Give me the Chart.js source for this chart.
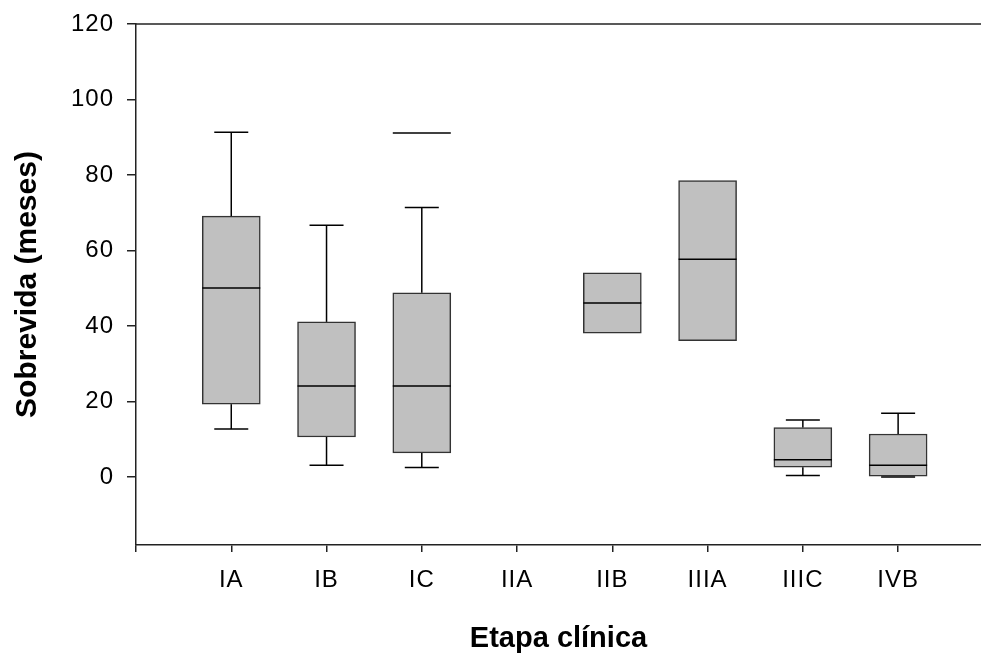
<!DOCTYPE html>
<html lang="pt">
<head>
  <meta charset="UTF-8" />
  <title>Sobrevida por etapa clínica</title>
  <script src="https://cdn.jsdelivr.net/npm/chart.js"></script>
  <style>
    body {
      margin: 0;
      background: #ffffff;
    }
    #wrap {
      width: 981px;
      height: 657px;
    }
  </style>
</head>
<body>
  <div id="wrap"><canvas id="boxChart"></canvas></div>

  <script>
    // stages on the x axis
    const stages = ['IA', 'IB', 'IC', 'IIA', 'IIB', 'IIIA', 'IIIC', 'IVB'];
    // box plot values (months), null = no data
    const whiskerLow = [12.7, 3.1, 2.5, null, null, null, 0.4, 0.0];
    const q1 = [19.3, 10.6, 6.4, null, 38.1, 36.1, 2.6, 0.0];
    const median = [50.1, 24.1, 24.1, null, 46.1, 57.7, 4.6, 3.1];
    const q3 = [69.1, 41.1, 48.8, null, 54.1, 78.5, 13.1, 11.4];
    const whiskerHigh = [91.3, 66.7, 71.4, null, null, null, 15.1, 16.9];
    // single extreme value drawn as a line above IC
    const extremes = [[], [], [91.1], [], [], [], [], []];
    const yTicks = [0, 20, 40, 60, 80, 100, 120];

    const FONT = "'Liberation Sans', Arial, sans-serif";
    const LINE = '#222';

    // boxes (q1..q3) as floating bars; stages without data are left out
    const boxData = stages
      .map((s, i) => q1[i] == null ? null : { x: i + 1, y: [q1[i], q3[i]] })
      .filter(d => d !== null);

    const boxPlugin = {
      id: 'boxExtras',
      afterDatasetsDraw(chart) {
        const { ctx, chartArea, scales: { x, y } } = chart;
        const boxHalf = 29, capHalf = 17;
        ctx.save();
        ctx.lineWidth = 1.5;

        // top frame line
        ctx.strokeStyle = LINE;
        ctx.beginPath();
        ctx.moveTo(chartArea.left, chartArea.top);
        ctx.lineTo(chartArea.right, chartArea.top);
        ctx.stroke();
        ctx.strokeStyle = '#000';

        const hline = (px, val, half) => {
          const py = y.getPixelForValue(val);
          ctx.beginPath();
          ctx.moveTo(px - half, py);
          ctx.lineTo(px + half, py);
          ctx.stroke();
        };
        const vline = (px, a, b) => {
          ctx.beginPath();
          ctx.moveTo(px, y.getPixelForValue(a));
          ctx.lineTo(px, y.getPixelForValue(b));
          ctx.stroke();
        };

        stages.forEach((s, i) => {
          if (q1[i] == null) return;
          const px = x.getPixelForValue(i + 1);
          hline(px, median[i], boxHalf);
          if (whiskerHigh[i] != null) {
            vline(px, q3[i], whiskerHigh[i]);
            hline(px, whiskerHigh[i], capHalf);
          }
          if (whiskerLow[i] != null) {
            vline(px, q1[i], whiskerLow[i]);
            hline(px, whiskerLow[i], capHalf);
          }
          extremes[i].forEach(v => hline(px, v, boxHalf));
        });
        ctx.restore();

        // slightly wider spacing for the tick labels drawn after this hook
        ctx.letterSpacing = '1px';
      },
      afterDraw(chart) {
        chart.ctx.letterSpacing = '0px';
      }
    };

    new Chart(document.getElementById('boxChart'), {
      type: 'bar',
      data: {
        datasets: [{
          data: boxData,
          backgroundColor: '#c0c0c0',
          borderColor: '#333',
          borderWidth: 1.5,
          borderSkipped: false,
          barThickness: 58,
          grouped: false
        }]
      },
      options: {
        responsive: true,
        maintainAspectRatio: false,
        animation: false,
        layout: { padding: { top: 24, right: 0, left: 0, bottom: 0 } },
        plugins: {
          legend: { display: false },
          tooltip: { enabled: false }
        },
        scales: {
          x: {
            type: 'linear',
            offset: false,
            min: 0,
            max: 8.87,
            afterBuildTicks: (axis) => {
              axis.ticks = [0, 1, 2, 3, 4, 5, 6, 7, 8].map(v => ({ value: v }));
            },
            afterFit: (axis) => { axis.height = 112; },
            ticks: {
              z: 1,
              autoSkip: false,
              maxRotation: 0,
              padding: 14,
              color: '#000',
              font: { family: FONT, size: 24 },
              callback: (v) => v === 0 ? '' : stages[v - 1]
            },
            grid: {
              display: true,
              offset: false,
              drawOnChartArea: false,
              drawTicks: true,
              tickLength: 7,
              color: LINE,
              lineWidth: 1.5
            },
            border: { display: true, color: LINE, width: 1.5 },
            title: {
              display: true,
              text: 'Etapa clínica',
              color: '#000',
              font: { family: FONT, size: 29, weight: 'bold' },
              padding: { top: 0, bottom: 1 }
            }
          },
          y: {
            min: -18,
            max: 120,
            afterBuildTicks: (axis) => {
              axis.ticks = yTicks.map(v => ({ value: v }));
            },
            afterFit: (axis) => {
              axis.width = 136;
              axis.paddingTop = 0;
              axis.paddingBottom = 0;
            },
            ticks: {
              z: 1,
              padding: 13,
              color: '#000',
              font: { family: FONT, size: 24 }
            },
            grid: {
              display: true,
              drawOnChartArea: false,
              drawTicks: true,
              tickLength: 9,
              color: LINE,
              lineWidth: 1.5
            },
            border: { display: true, color: LINE, width: 1.5 },
            title: {
              display: true,
              text: 'Sobrevida (meses)',
              color: '#000',
              font: { family: FONT, size: 30, weight: 'bold' },
              padding: { top: 10, bottom: 0 }
            }
          }
        }
      },
      plugins: [boxPlugin]
    });
  </script>
</body>
</html>
